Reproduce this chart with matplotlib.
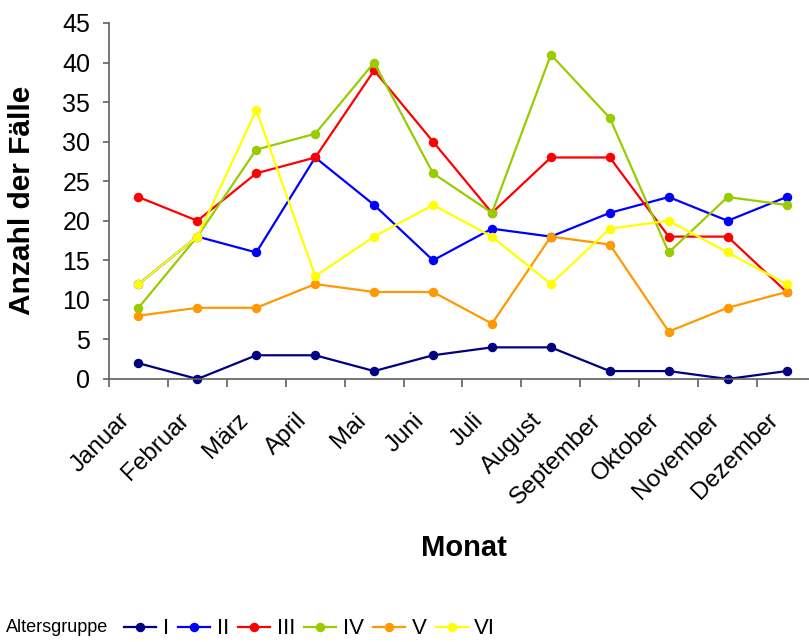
import matplotlib
matplotlib.use("Agg")
import matplotlib.pyplot as plt
from matplotlib.lines import Line2D
from matplotlib.transforms import ScaledTranslation

plt.rcParams['font.family'] = ['Liberation Sans', 'DejaVu Sans']
NARROW = ['Liberation Sans Narrow', 'Liberation Sans', 'DejaVu Sans']

months = ["Januar", "Februar", "März", "April", "Mai", "Juni", "Juli",
          "August", "September", "Oktober", "November", "Dezember"]
group_labels = ["I", "II", "III", "IV", "V", "VI"]
s_I   = [2, 0, 3, 3, 1, 3, 4, 4, 1, 1, 0, 1]
s_II  = [12, 18, 16, 28, 22, 15, 19, 18, 21, 23, 20, 23]
s_III = [23, 20, 26, 28, 39, 30, 21, 28, 28, 18, 18, 11]
s_IV  = [9, 18, 29, 31, 40, 26, 21, 41, 33, 16, 23, 22]
s_V   = [8, 9, 9, 12, 11, 11, 7, 18, 17, 6, 9, 11]
s_VI  = [12, 18, 34, 13, 18, 22, 18, 12, 19, 20, 16, 12]
series = [s_I, s_II, s_III, s_IV, s_V, s_VI]
colors = ["#000080", "#0000FF", "#FF0000", "#99CC00", "#FF9900", "#FFFF00"]
yticks = [0, 5, 10, 15, 20, 25, 30, 35, 40, 45]

fig = plt.figure(figsize=(8.09, 6.42), dpi=100)
ax = fig.add_axes([109/809, (642-379)/642, (816-109)/809, (379-23)/642])

x = list(range(len(months)))
for s, c, lab in zip(series, colors, group_labels):
    ax.plot(x, s, color=c, lw=1.6, marker='o', ms=5.8, mec=c, mfc=c,
            label=lab, clip_on=False)

ax.set_xlim(-0.5, 11.5)
ax.set_ylim(0, 45)
ax.set_yticks(yticks)
ax.set_xticks(x)
ax.set_xticklabels([])
ax.set_xticks([i - 0.5 for i in range(13)], minor=True)
ax.tick_params(axis='x', which='major', length=0)
ax.tick_params(axis='x', which='minor', length=5.5, color='#606060', width=1.2,
               direction='out')
ax.tick_params(axis='y', length=4.5, color='#606060', width=1.2,
               labelsize=18, pad=9)
for side in ['top', 'right']:
    ax.spines[side].set_visible(False)
for side in ['left', 'bottom']:
    ax.spines[side].set_color('#606060')
    ax.spines[side].set_linewidth(1.2)

# rotated month labels at the category positions
offset = ScaledTranslation(-12/100, -38/100, fig.dpi_scale_trans)
for i, m in zip(x, months):
    ax.text(i, 0, m, transform=ax.get_xaxis_transform() + offset,
            rotation=45, ha='right', va='center', rotation_mode='anchor',
            fontsize=17.5)

fig.text(22/809, 1 - 200/642, "Anzahl der Fälle", rotation=90, ha='center',
         va='center', fontsize=21.5, fontweight='bold')
fig.text(464/809, 1 - 548/642, "Monat", ha='center', va='center',
         fontsize=21, fontweight='bold')

fig.text(6/809, 1 - 628/642, "Altersgruppe", ha='left', va='center',
         fontsize=13, family=NARROW)
leg_handles = [Line2D([0], [0], color=c, lw=1.6, marker='o', ms=5.8) for c in colors]
fig.legend(leg_handles, group_labels, loc='center left',
           bbox_to_anchor=(124/809, 1 - 629/642), ncol=6, frameon=False,
           prop={'family': NARROW, 'size': 16}, handlelength=1.45,
           handletextpad=0.3, columnspacing=0.4, borderaxespad=0,
           borderpad=0)

fig.savefig("out.png", dpi=100)
